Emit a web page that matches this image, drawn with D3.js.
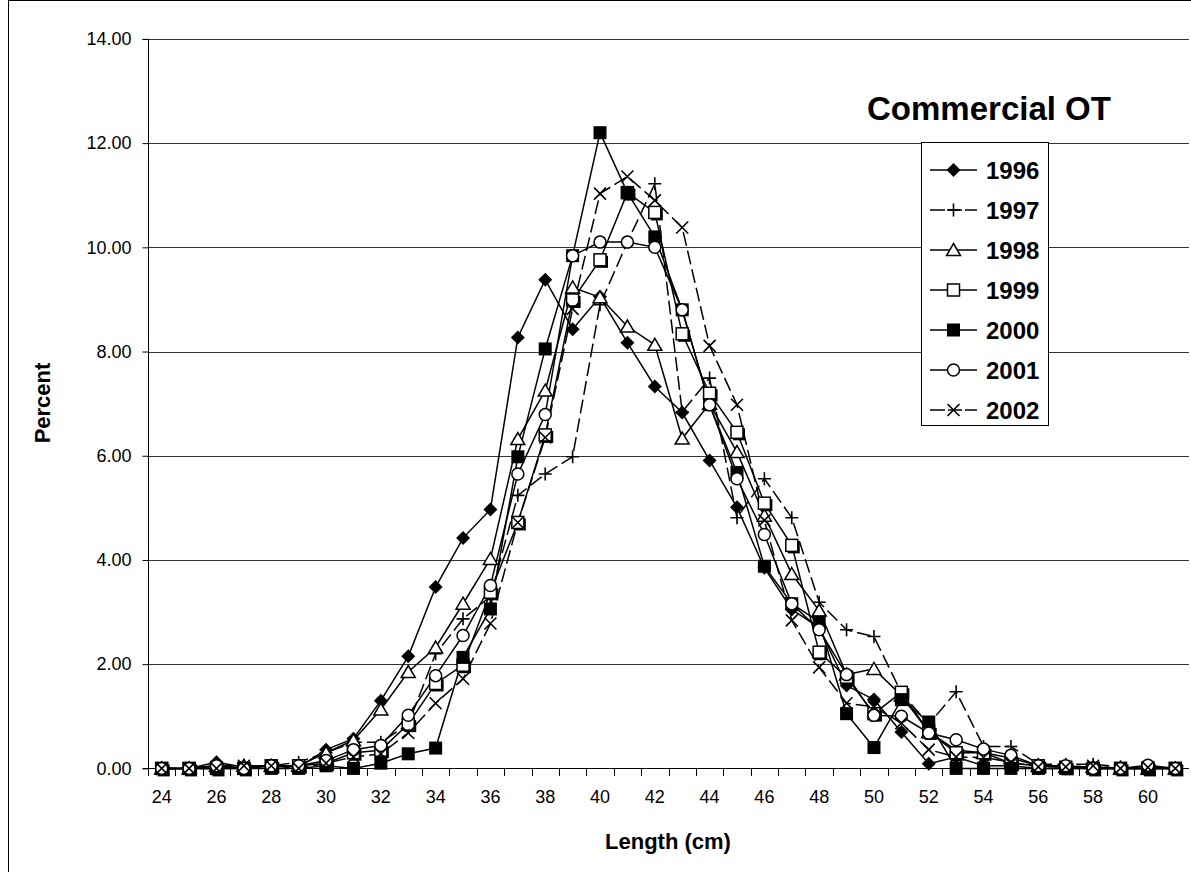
<!DOCTYPE html>
<html><head><meta charset="utf-8">
<script src="https://cdn.jsdelivr.net/npm/d3@7"></script>
<style>body{margin:0;background:#fff}</style>
</head><body>
<svg id="chart" width="1191" height="882"></svg>
<script>
// ---- data ----
const lengths = [24,25,26,27,28,29,30,31,32,33,34,35,36,37,38,39,40,41,42,43,44,45,46,47,48,49,50,51,52,53,54,55,56,57,58,59,60,61];
const xLabels = [24,26,28,30,32,34,36,38,40,42,44,46,48,50,52,54,56,58,60];
const yTicks = [0,2,4,6,8,10,12,14];
const seriesNames = ["1996","1997","1998","1999","2000","2001","2002"];
const s1996 = [0,0,0.12,0.02,0.05,0.02,0.36,0.57,1.30,2.15,3.48,4.42,4.97,8.27,9.38,8.43,9.05,8.17,7.33,6.83,5.91,5.01,3.85,3.05,2.7,1.59,1.32,0.7,0.09,0.22,0.05,0.05,0,0,0,0,0,0];
const s1997 = [0,0,0.05,0.05,0.05,0.12,0.3,0.5,0.5,0.85,2.2,2.87,3.3,5.24,5.65,5.98,8.9,10.1,11.22,6.84,7.49,4.81,5.56,4.81,3.19,2.66,2.53,1.45,0.85,1.47,0.42,0.42,0.08,0.08,0.08,0.03,0.03,0];
const s1998 = [0,0,0.05,0.05,0.05,0.05,0.3,0.54,1.13,1.85,2.32,3.16,4.02,6.32,7.25,9.23,9.04,8.48,8.13,6.33,7.0,6.07,4.85,3.73,3.03,1.8,1.91,1.4,0.7,0.35,0.3,0.2,0.05,0.03,0.03,0,0,0];
const s1999 = [0,0,0,0,0.05,0.05,0.1,0.3,0.35,0.85,1.63,1.98,3.38,4.72,6.4,8.99,9.76,11.05,10.67,8.34,7.2,6.45,5.09,4.28,2.23,1.75,1.05,1.46,0.7,0.3,0.3,0.1,0.05,0.02,0,0,0,0];
const s2000 = [0,0,0,0,0,0,0.05,0,0.1,0.28,0.39,2.13,3.06,5.98,8.05,9.84,12.2,11.05,10.2,8.8,6.98,5.68,3.88,3.16,2.81,1.05,0.4,1.32,0.89,0,0,0,0,0,0,0,0,0];
const s2001 = [0,0,0.05,0,0.05,0.05,0.15,0.36,0.44,1.02,1.78,2.55,3.51,5.65,6.79,9.84,10.1,10.1,10.0,8.8,6.98,5.56,4.49,3.16,2.66,1.8,1.02,1.0,0.68,0.55,0.37,0.25,0.05,0.05,0,0,0.06,0];
const s2002 = [0,0,0,0.05,0.05,0,0.1,0.22,0.28,0.68,1.25,1.72,2.78,4.72,6.35,8.82,11.03,11.36,10.9,10.38,8.11,6.98,4.76,2.84,1.94,1.25,1.18,0.87,0.36,0.22,0.21,0.12,0.03,0.03,0.05,0,0.02,0];
const seriesValues = [s1996,s1997,s1998,s1999,s2000,s2001,s2002];

// ---- styles ----
const markerTypes = ["diamond","plus","triangle","square","fsquare","circle","cross"];
const dashes = [null,"14,5",null,null,null,null,"14,5"];
const FONT = "'Liberation Sans', Arial, Helvetica, sans-serif";

const svg = d3.select("#chart");
svg.append("rect").attr("width",1191).attr("height",882).attr("fill","#fff");
// chart area border (left and top visible)
svg.append("line").attr("x1",8.5).attr("x2",8.5).attr("y1",0).attr("y2",872).attr("stroke","#000").attr("stroke-width",1);
svg.append("line").attr("x1",8).attr("x2",1191).attr("y1",0.5).attr("y2",0.5).attr("stroke","#000").attr("stroke-width",1);

const L = 148, R = 1189, T = 38.9, B = 768.4;
const x = d3.scaleBand().domain(lengths).range([L, R]);
const cx = d => x(d) + x.bandwidth()/2;
const y = d3.scaleLinear().domain([0,14]).range([B, T]);

// gridlines
svg.append("g").selectAll("line").data(yTicks.filter(v=>v>0)).join("line")
  .attr("x1",L).attr("x2",R).attr("y1",d=>Math.round(y(d))+0.5).attr("y2",d=>Math.round(y(d))+0.5)
  .attr("stroke","#333").attr("stroke-width",1);

// y axis
const yAxis = svg.append("g").attr("transform",`translate(${L+0.5},0)`)
  .call(d3.axisLeft(y).tickValues(yTicks).tickFormat(d3.format(".2f")).tickSize(6).tickPadding(11));
yAxis.selectAll("text").attr("font-family",FONT).attr("font-size",18).attr("fill","#000");
yAxis.selectAll("line,path").attr("stroke","#000");
yAxis.select(".domain").attr("d",`M-6,${Math.round(T)+0.5}H0V${Math.round(B)+0.5}H-6`);

// x axis labels
const xAxis = svg.append("g").attr("transform",`translate(0,${Math.round(B)+0.5})`)
  .call(d3.axisBottom(x).tickValues(xLabels).tickSize(0).tickPadding(22));
xAxis.selectAll("text").attr("font-family",FONT).attr("font-size",18).attr("fill","#000");
xAxis.select(".domain").attr("stroke","#000").attr("d",`M${L},0H${R}`);
// x tick marks at category boundaries
svg.append("g").selectAll("line").data(lengths).join("line")
  .attr("x1",d=>Math.round(x(d))+0.5).attr("x2",d=>Math.round(x(d))+0.5)
  .attr("y1",Math.round(B)).attr("y2",Math.round(B)+8)
  .attr("stroke","#000").attr("stroke-width",1);

// lines
const line = d3.line().x((d,i)=>cx(lengths[i])).y(d=>y(d));
seriesValues.forEach((vals,si)=>{
  svg.append("path").datum(vals).attr("d",line).attr("fill","none")
    .attr("stroke","#000").attr("stroke-width",1.5)
    .attr("stroke-dasharray",dashes[si]);
});

function drawMarker(g, type, shadow){
  switch(type){
    case "diamond": g.append("path").attr("d","M0,-7L7,0L0,7L-7,0Z").attr("fill","#000"); break;
    case "plus": g.append("path").attr("d","M-6.5,0H6.5M0,-6.5V6.5").attr("stroke","#000").attr("stroke-width",1.6).attr("fill","none"); break;
    case "triangle": g.append("path").attr("d","M0,-6.5L7,5.5L-7,5.5Z").attr("fill","#fff").attr("stroke","#000").attr("stroke-width",1.5); break;
    case "square":
      if(shadow) g.append("rect").attr("x",-4).attr("y",-4).attr("width",12).attr("height",12).attr("fill","#000");
      g.append("rect").attr("x",-6).attr("y",-6).attr("width",12).attr("height",12).attr("fill","#fff").attr("stroke","#000").attr("stroke-width",1.5); break;
    case "fsquare": g.append("rect").attr("x",-6.5).attr("y",-6.5).attr("width",13).attr("height",13).attr("fill","#000"); break;
    case "circle": g.append("circle").attr("r",6).attr("fill","#fff").attr("stroke","#000").attr("stroke-width",1.5); break;
    case "cross": g.append("path").attr("d","M-6,-6L6,6M-6,6L6,-6").attr("stroke","#000").attr("stroke-width",1.6).attr("fill","none"); break;
  }
}

// markers
seriesValues.forEach((vals,si)=>{
  const g = svg.append("g");
  vals.forEach((v,i)=>{
    const m = g.append("g").attr("transform",`translate(${cx(lengths[i])},${y(v)})`);
    drawMarker(m, markerTypes[si], true);
  });
});

// axis titles
svg.append("text").attr("x",668).attr("y",849).attr("text-anchor","middle")
  .attr("font-family",FONT).attr("font-weight","bold").attr("font-size",22).text("Length (cm)");
svg.append("text").attr("transform","translate(50,403) rotate(-90)").attr("text-anchor","middle")
  .attr("font-family",FONT).attr("font-weight","bold").attr("font-size",22).text("Percent");

// title
svg.append("text").attr("x",989).attr("y",120).attr("text-anchor","middle")
  .attr("font-family",FONT).attr("font-weight","bold").attr("font-size",33).text("Commercial OT");

// legend
const lg = svg.append("g");
lg.append("rect").attr("x",921.5).attr("y",142.5).attr("width",127).attr("height",283)
  .attr("fill","#fff").attr("stroke","#000").attr("stroke-width",1);
seriesNames.forEach((name,i)=>{
  const yy = 170 + i*40;
  lg.append("line").attr("x1",930).attr("x2",977).attr("y1",yy).attr("y2",yy)
    .attr("stroke","#000").attr("stroke-width",1.5)
    .attr("stroke-dasharray", dashes[i] ? "15,3,14,3,20" : null);
  const m = lg.append("g").attr("transform",`translate(953.5,${yy})`);
  drawMarker(m, markerTypes[i], false);
  lg.append("text").attr("x",986).attr("y",yy+8.5)
    .attr("font-family",FONT).attr("font-weight","bold").attr("font-size",24).text(name);
});
</script>
</body></html>
